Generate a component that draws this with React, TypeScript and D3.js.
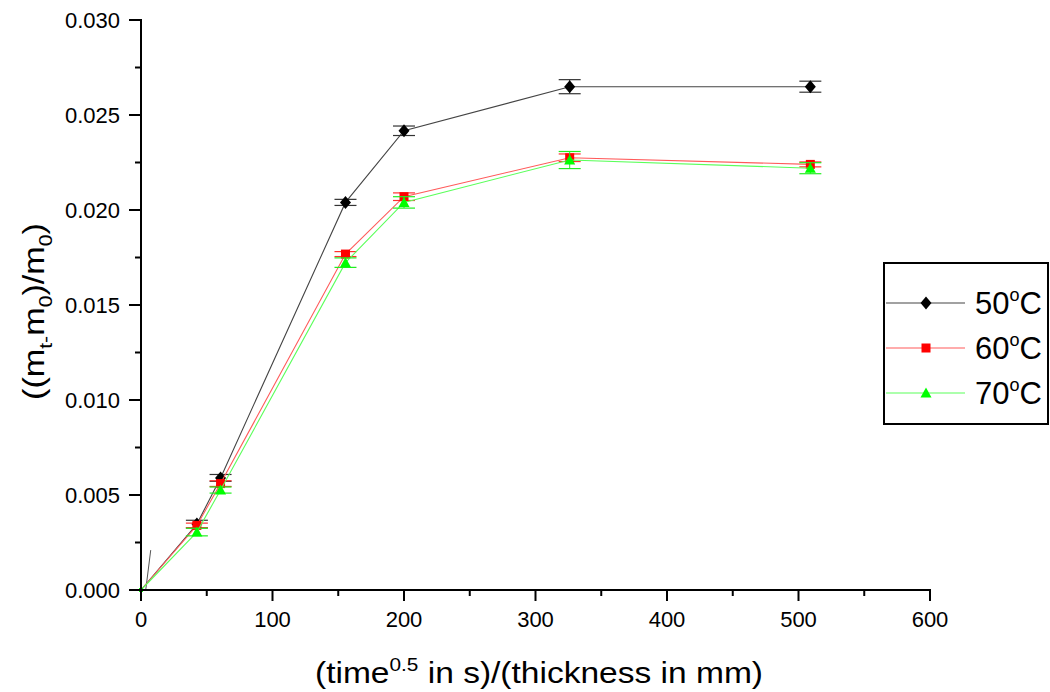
import React from "react";
import * as d3 from "d3";

// Normalised mass uptake vs. sqrt(time)/thickness at three temperatures
const xValues = [0, 42.5, 60.5, 155.5, 200, 326, 509];
const uptake50 = [0, 0.00347, 0.0059, 0.0204, 0.02417, 0.02649, 0.02649];
const err50 = [0, 0.0002, 0.00018, 0.00016, 0.00025, 0.00037, 0.00029];
const uptake60 = [0, 0.0034, 0.0056, 0.01768, 0.0207, 0.02275, 0.0224];
const err60 = [0, 0.00012, 0.00015, 0.00013, 0.0002, 0.0002, 0.00013];
const uptake70 = [0, 0.00305, 0.00526, 0.01723, 0.0204, 0.02263, 0.0222];
const err70 = [0, 0.0002, 0.00016, 0.00025, 0.0003, 0.00045, 0.00029];
const seriesLabels = ["50", "60", "70"];
const xTicks = [0, 100, 200, 300, 400, 500, 600];
const yTicks = [0, 0.005, 0.01, 0.015, 0.02, 0.025, 0.03];
// short stray stroke near the origin
const strayStroke: [number, number][] = [[3.6, 0], [7.4, 0.0021]];

const FONT = "'Liberation Sans', Arial, sans-serif";

const x = d3.scaleLinear().domain([0, 600]).range([141, 930]);
const y = d3.scaleLinear().domain([0, 0.03]).range([590, 20]);

type Series = {
  label: string;
  values: number[];
  errors: number[];
  line: string;
  marker: string;
  bar: string;
  shape: "diamond" | "square" | "triangle";
};

const series: Series[] = [
  { label: seriesLabels[0], values: uptake50, errors: err50, line: "#444", marker: "#000", bar: "#333", shape: "diamond" },
  { label: seriesLabels[1], values: uptake60, errors: err60, line: "#ff5a5a", marker: "#ff0000", bar: "#ff3030", shape: "square" },
  { label: seriesLabels[2], values: uptake70, errors: err70, line: "#5aff5a", marker: "#00ff00", bar: "#22ee22", shape: "triangle" },
];

function Marker({ shape, cx, cy, color }: { shape: string; cx: number; cy: number; color: string }) {
  if (shape === "diamond") {
    return <path d={`M${cx},${cy - 6.5}L${cx + 5.5},${cy}L${cx},${cy + 6.5}L${cx - 5.5},${cy}Z`} fill={color} />;
  }
  if (shape === "square") {
    return <rect x={cx - 4.5} y={cy - 4.5} width={9} height={9} fill={color} />;
  }
  return <path d={`M${cx},${cy - 5.5}L${cx + 5.5},${cy + 4.5}L${cx - 5.5},${cy + 4.5}Z`} fill={color} />;
}

export default function App() {
  const line = d3
    .line<number>()
    .x((_, i) => x(xValues[i]))
    .y((d) => y(d));

  const minorY = d3.range(0.0025, 0.03, 0.005);
  const minorX = d3.range(50, 600, 100);

  return (
    <svg width={1050} height={692} style={{ position: "absolute", left: 0, top: 0, background: "#fff" }} fontFamily={FONT}>
      {/* stray stroke */}
      <path
        d={d3.line()(strayStroke.map(([a, b]) => [x(a), y(b)]))!}
        stroke="#555"
        strokeWidth={1}
        fill="none"
      />
      {series.map((s) => (
        <g key={s.label}>
          <path d={line(s.values)!} stroke={s.line} strokeWidth={1.1} fill="none" />
          {s.values.map((v, i) =>
            i === 0 ? null : (
              <g key={i}>
                <line x1={x(xValues[i])} x2={x(xValues[i])} y1={y(v - s.errors[i])} y2={y(v + s.errors[i])} stroke={s.bar} strokeWidth={1} />
                <line x1={x(xValues[i]) - 11} x2={x(xValues[i]) + 11} y1={y(v - s.errors[i])} y2={y(v - s.errors[i])} stroke={s.bar} strokeWidth={1.2} />
                <line x1={x(xValues[i]) - 11} x2={x(xValues[i]) + 11} y1={y(v + s.errors[i])} y2={y(v + s.errors[i])} stroke={s.bar} strokeWidth={1.2} />
                <Marker shape={s.shape} cx={x(xValues[i])} cy={y(v)} color={s.marker} />
              </g>
            )
          )}
        </g>
      ))}
      {/* tiny mark at the origin */}
      <rect x={x(0) - 2} y={y(0) - 2} width={4} height={4} fill="#00ff00" />

      {/* axes */}
      <line x1={x(0)} x2={x(0)} y1={y(0.03) - 1} y2={y(0) + 1} stroke="#000" strokeWidth={2} />
      <line x1={x(0) - 1} x2={x(600) + 1} y1={y(0)} y2={y(0)} stroke="#000" strokeWidth={2} />
      {yTicks.map((t) => (
        <g key={t}>
          <line x1={x(0) - 12} x2={x(0)} y1={y(t)} y2={y(t)} stroke="#000" strokeWidth={2} />
          <text x={120} y={y(t) + 8} textAnchor="end" fontSize={22} fill="#000">
            {d3.format(".3f")(t)}
          </text>
        </g>
      ))}
      {minorY.map((t) => (
        <line key={t} x1={x(0) - 6} x2={x(0)} y1={y(t)} y2={y(t)} stroke="#000" strokeWidth={2} />
      ))}
      {xTicks.map((t) => (
        <g key={t}>
          <line x1={x(t)} x2={x(t)} y1={y(0)} y2={y(0) + 11} stroke="#000" strokeWidth={2} />
          <text x={x(t)} y={627} textAnchor="middle" fontSize={22} fill="#000">
            {t}
          </text>
        </g>
      ))}
      {minorX.map((t) => (
        <line key={t} x1={x(t)} x2={x(t)} y1={y(0)} y2={y(0) + 6} stroke="#000" strokeWidth={2} />
      ))}

      {/* axis titles */}
      <text x={315} y={683} fontSize={29} fill="#000" textLength={448} lengthAdjust="spacingAndGlyphs">
        (time<tspan fontSize={18} dy={-12}>0.5</tspan>
        <tspan dy={12}> in s)/(thickness in mm)</tspan>
      </text>
      <text transform="translate(44,400) rotate(-90)" fontSize={29} fill="#000" textLength={177} lengthAdjust="spacingAndGlyphs">
        ((m<tspan fontSize={18} dy={8}>t-</tspan>
        <tspan dy={-8}>m</tspan>
        <tspan fontSize={18} dy={8}>0</tspan>
        <tspan dy={-8}>)/m</tspan>
        <tspan fontSize={18} dy={8}>0</tspan>
        <tspan dy={-8}>)</tspan>
      </text>

      {/* legend */}
      <rect x={884} y={263} width={164} height={161} fill="#fff" stroke="#000" strokeWidth={2} />
      {series.map((s, i) => {
        const ly = 303 + i * 45;
        return (
          <g key={s.label}>
            <line x1={886} x2={965} y1={ly} y2={ly} stroke={s.line} strokeWidth={1.1} />
            <Marker shape={s.shape} cx={926} cy={ly} color={s.marker} />
            <text x={975} y={ly + 11} fontSize={31} fill="#000">
              {s.label}
              <tspan fontSize={18} dy={-13}>o</tspan>
              <tspan dy={13}>C</tspan>
            </text>
          </g>
        );
      })}
    </svg>
  );
}
